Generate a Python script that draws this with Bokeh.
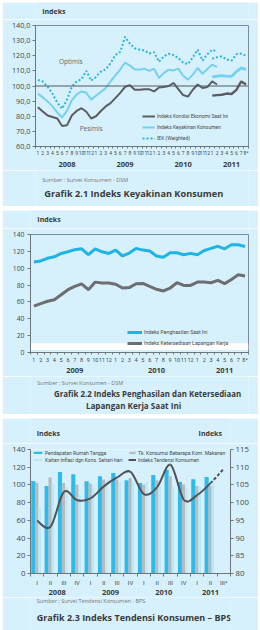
from bokeh.plotting import figure
from bokeh.models import (Range1d, LinearAxis, FixedTicker, Span, Label, Legend,
                          LegendItem, BoxAnnotation, ColumnDataSource)
from bokeh.layouts import column
from bokeh.transform import dodge
from bokeh.embed import file_html
from bokeh.resources import INLINE

BG = "#d6f1fb"
FRAME = "#7d8c92"
AXIS = "#6c777c"
TXT = "#474747"
HEAD = "#3a3a3a"
FONT = "Open Sans"
SMALL = "Roboto"
W = 256

# ---------------- Grafik 2.1 : monthly, Jan 2008 - Aug 2011 ----------------
months_1 = [str(m) for m in range(1, 13)] * 3 + ["1", "2", "3", "4", "5", "6", "7", "8*"]
years_1 = ["2008", "2009", "2010", "2011"]
months_in_year_1 = [12, 12, 12, 8]

# old index series (Jan 2008 - Feb 2011)
ike_old = [86, 83.2, 80.5, 79.5, 78.5, 73.5, 74, 80.5, 83.5, 85.3, 83, 78.5,
           80, 83.5, 86.5, 88.7, 92, 95.5, 99.5, 100.5, 97.5, 97.5, 97.8, 97.8,
           96.4, 99, 99.3, 100, 102, 98, 94, 93, 97.5, 101, 98.7, 99.3,
           103, 101]
ikk_old = [95, 92.5, 89.8, 86.5, 82.5, 79.2, 83.5, 90.5, 94.5, 96.4, 95.5, 91,
           93.5, 96, 98.5, 103, 107, 110.8, 115.5, 113.5, 111, 110.8, 111.5, 110,
           111.5, 105.3, 108.5, 110.8, 110.3, 111.5, 106.8, 104.2, 107.5, 111.9, 108.1, 111.3,
           114.1, 112.5]
iek_old = [104, 103, 99.5, 95, 89, 85, 91, 99.5, 103, 104.5, 110, 103.5,
           106, 109.5, 111, 115, 120.5, 122.5, 132.5, 128, 125, 124, 123.5, 121.5,
           122.3, 116, 119.5, 121.3, 120.5, 118.5, 115.5, 114.5, 119, 124, 116.8, 121,
           124, 122.8]
# new index series (Jan 2011 - Aug 2011)
ike_new = [93.6, 94, 94.2, 95, 94.7, 97.5, 103, 101]
ikk_new = [106, 106.5, 106.8, 106.5, 106.4, 109.5, 112, 110.8]
iek_new = [118, 119, 119.5, 117.5, 116.8, 121, 121.4, 120]
y_ticks_1 = [60, 70, 80, 90, 100, 110, 120, 130, 140]
y_labels_1 = ["60,0", "70,0", "80,0", "90,0", "100,0", "110,0", "120,0", "130,0", "140,0"]

# ---------------- Grafik 2.2 : monthly, Jan 2009 - Aug 2011 ----------------
months_2 = [str(m) for m in range(1, 13)] * 2 + ["1", "2", "3", "4", "5", "6", "7", "8*"]
years_2 = ["2009", "2010", "2011"]
months_in_year_2 = [12, 12, 8]
penghasilan = [107.3, 108.6, 111.8, 113.5, 117.5, 119.5, 122, 123, 116, 123, 119.5, 117.5,
               121.5, 114.5, 118, 123.5, 121.5, 120.5, 114.5, 113, 118.4, 118.4, 116, 117.6,
               116, 121, 123.5, 126, 123, 127.8, 127.8, 125.8]
lapangan_kerja = [55, 58, 60.8, 62.5, 68.5, 74.5, 78.5, 81.5, 74.5, 83.5, 82.5, 82.5,
                  81, 76.5, 77, 81.5, 82, 78.5, 75, 73, 76.5, 82.8, 79.6, 79.6,
                  83.6, 83.6, 82.8, 85.5, 81.7, 86.7, 92.3, 90.7]
y_ticks_2 = [0, 20, 40, 60, 80, 100, 120, 140]

# ---------------- Grafik 2.3 : quarterly, 2008 Q1 - 2011 Q3 ----------------
quarters_3 = ["I", "II", "III", "IV"] * 3 + ["I", "II", "III*"]
years_3 = ["2008", "2009", "2010", "2011"]
quarters_in_year_3 = [4, 4, 4, 3]
pendapatan = [104.5, 98.9, 114.7, 112, 104.2, 109.8, 113.5, 105.3, 102.3, 111.3, 117.2, 103.4, 106.4, 109]
konsumsi_makanan = [102.5, 108.3, 102.3, 100.4, 101.6, 106.1, 106, 107.9, 100.4, 105.3, 109.8, 100.4, 98.9, 98.9]
kaitan_inflasi = [73.5, 101, 98, 88.4, 99, 105.3, 103.4, 103.4, 103.4, 98.5, 98.5, 96.6, 97.7, 106]
itk = [94.9, 93.2, 103, 100.7, 101.2, 104.6, 107.1, 108.7, 102.4, 104.4, 110.7, 100.8, 102.1, 105.5]
itk_outlook = [109.6]   # expected value for 2011 Q3*
y_ticks_3 = [0, 20, 40, 60, 80, 100, 120, 140]
y_ticks_3r = [80, 85, 90, 95, 100, 105, 110, 115]


def make_fig(frame_h, n_x, y0, y1, bl, br, bt=6, bb=24, outline=True):
    p = figure(width=W, height=bt + frame_h + bb, x_range=Range1d(-0.5, n_x - 0.5),
               y_range=Range1d(y0, y1), output_backend="svg", toolbar_location=None,
               min_border_left=bl, min_border_right=br, min_border_top=bt,
               min_border_bottom=bb, background_fill_color=BG, border_fill_color=BG,
               outline_line_color=FRAME if outline else None)
    p.xgrid.visible = False
    p.ygrid.visible = False
    return p


def text_strip(height):
    # a plain canvas for headings and notes; its data units are pixels from the top-left
    s = figure(width=W, height=height, x_range=Range1d(0, W), y_range=Range1d(height, 0),
               output_backend="svg", toolbar_location=None, x_axis_type=None,
               y_axis_type=None, min_border=0, background_fill_color=BG,
               border_fill_color=BG, outline_line_color=None)
    return s


def note(s, x, y, text, size, bold=False, color=TXT, align="left"):
    s.add_layout(Label(x=x, y=y, text=text, text_font=FONT, text_font_size=size,
                       text_font_style="bold" if bold else "normal",
                       text_color=color, text_align=align, text_baseline="middle"))


def style_y(ax, ticks, labels, size, standoff=2):
    ax.ticker = FixedTicker(ticks=ticks)
    ax.major_label_overrides = dict(zip(ticks, labels))
    ax.major_tick_in = 0
    ax.major_tick_out = 3
    ax.minor_tick_line_color = None
    ax.axis_line_color = AXIS
    ax.major_tick_line_color = AXIS
    ax.major_label_text_font = FONT
    ax.major_label_text_font_size = size
    ax.major_label_text_color = TXT
    ax.major_label_standoff = standoff


def style_x(ax, labels, size, tick_out=2, standoff=1):
    ticks = list(range(len(labels)))
    ax.ticker = FixedTicker(ticks=ticks, minor_ticks=[t - 0.5 for t in range(len(labels) + 1)])
    ax.major_label_overrides = dict(zip(ticks, labels))
    ax.major_tick_line_color = None
    ax.major_tick_in = 0
    ax.major_tick_out = tick_out
    ax.minor_tick_in = 0
    ax.minor_tick_out = tick_out
    ax.minor_tick_line_color = AXIS
    ax.axis_line_color = AXIS
    ax.major_label_text_font = SMALL
    ax.major_label_text_font_size = size
    ax.major_label_text_color = TXT
    ax.major_label_standoff = standoff


def add_year_axis(p, names, counts, shift, standoff):
    centers, start = [], 0
    for c in counts:
        centers.append(start + (c - 1) / 2 + shift)
        start += c
    ax = LinearAxis(ticker=FixedTicker(ticks=centers),
                    major_label_overrides=dict(zip(centers, names)),
                    axis_line_color=None, major_tick_line_color=None,
                    minor_tick_line_color=None, major_tick_in=0, major_tick_out=0,
                    major_label_standoff=standoff, major_label_text_font=FONT,
                    major_label_text_font_style="bold", major_label_text_font_size="7.5px",
                    major_label_text_color=HEAD)
    p.add_layout(ax, "below")


def legend(items, loc, size, gw, gh, lh):
    return Legend(items=items, location=loc, orientation="vertical",
                  label_text_font=SMALL, label_text_font_size=size, label_text_color=TXT,
                  glyph_width=gw, glyph_height=gh, label_height=lh, label_standoff=2,
                  spacing=0, padding=0, margin=0, border_line_color=None,
                  background_fill_alpha=0)


# ============================ Grafik 2.1 ============================
h1 = text_strip(17)
note(h1, 8, 9, "Indeks", "7px", bold=True, color=HEAD)

p1 = make_fig(121, len(months_1), 60, 140, 33, 10)
style_y(p1.yaxis[0], y_ticks_1, y_labels_1, "7.3px")
style_x(p1.xaxis[0], months_1, "5px")
add_year_axis(p1, years_1, months_in_year_1, 0.5, 3)
p1.add_layout(Span(location=100, dimension="width", line_color="#55595c", line_width=1))

x_old = list(range(len(ike_old)))
x_new = list(range(len(months_1) - len(ike_new), len(months_1)))
C_IKE, C_IKK, C_IEK = "#5c5c62", "#74d1f0", "#2cb4e0"
r_ike = p1.line(x_old, ike_old, line_color=C_IKE, line_width=2)
p1.line(x_new, ike_new, line_color=C_IKE, line_width=2.4)
r_ikk = p1.line(x_old, ikk_old, line_color=C_IKK, line_width=2)
p1.line(x_new, ikk_new, line_color=C_IKK, line_width=2.8)
r_iek = p1.line(x_old, iek_old, line_color=C_IEK, line_width=2, line_dash="2 2")
p1.line(x_new, iek_new, line_color=C_IEK, line_width=2, line_dash="2 2")

p1.add_layout(Label(x=6.8, y=116, text="Optimis", text_font=FONT, text_font_size="6.5px",
                    text_color="#666666", text_align="center", text_baseline="middle"))
p1.add_layout(Label(x=11, y=71.7, text="Pesimis", text_font=FONT, text_font_size="6.5px",
                    text_color="#666666", text_align="center", text_baseline="middle"))
p1.add_layout(legend([LegendItem(label="Indeks Kondisi Ekonomi Saat Ini", renderers=[r_ike]),
                      LegendItem(label="Indeks Keyakinan Konsumen", renderers=[r_ikk]),
                      LegendItem(label="IEK (Weighted)", renderers=[r_iek])],
                     (107, 3), "5px", 13, 8, 11))

f1 = text_strip(36)
note(f1, 8, 9, "Sumber : Survei Konsumen - DSM", "5.5px", color="#777777")
note(f1, 10.5, 23, "Grafik 2.1 Indeks Keyakinan Konsumen", "9.2px", bold=True, color=HEAD)

# ============================ Grafik 2.2 ============================
h2 = text_strip(18)
note(h2, 8, 9, "Indeks", "7px", bold=True, color=HEAD)

p2 = make_fig(118, len(months_2), 0, 140, 28, 10)
style_y(p2.yaxis[0], y_ticks_2, [str(t) for t in y_ticks_2], "6.8px", standoff=3)
style_x(p2.xaxis[0], months_2, "5.5px", standoff=2)
add_year_axis(p2, years_2, months_in_year_2, 0.5, 2)
p2.add_layout(BoxAnnotation(bottom=3, top=11, fill_color="white", fill_alpha=1,
                            line_color=None, level="underlay"))
x2 = list(range(len(penghasilan)))
r_ph = p2.line(x2, penghasilan, line_color="#1fb3e6", line_width=3)
r_lk = p2.line(x2, lapangan_kerja, line_color="#6d6d73", line_width=3)
p2.add_layout(legend([LegendItem(label="Indeks Penghasilan Saat Ini", renderers=[r_ph]),
                      LegendItem(label="Indeks Ketersediaan Lapangan Kerja", renderers=[r_lk])],
                     (97, 4), "5.2px", 15, 8, 11))

f2 = text_strip(38)
note(f2, 8, 6, "Sumber : Survei Konsumen - DSM", "5.5px", color="#777777")
note(f2, 27.5, 17, "Grafik 2.2 Indeks Penghasilan dan Ketersediaan", "7.9px", bold=True, color=HEAD)
note(f2, 121, 29, "Lapangan Kerja Saat Ini", "8.1px", bold=True, color=HEAD, align="center")

# ============================ Grafik 2.3 ============================
h3 = text_strip(25)
note(h3, 8, 15, "Indeks", "7px", bold=True, color=HEAD)
note(h3, 245, 15, "Indeks", "7px", bold=True, color=HEAD, align="right")

p3 = make_fig(124, len(quarters_3), 0, 140, 28, 28, outline=False)
p3.extra_y_ranges = {"itk": Range1d(80, 115)}
style_y(p3.yaxis[0], y_ticks_3, [str(t) for t in y_ticks_3], "7.8px")
right_ax = LinearAxis(y_range_name="itk")
style_y(right_ax, y_ticks_3r, [str(t) for t in y_ticks_3r], "7.8px")
p3.add_layout(right_ax, "right")
style_x(p3.xaxis[0], quarters_3, "6px", tick_out=3, standoff=2)
add_year_axis(p3, years_3, quarters_in_year_3, 0, 1)

src3 = ColumnDataSource(dict(q=list(range(len(pendapatan))), pendapatan=pendapatan,
                             konsumsi=konsumsi_makanan, inflasi=kaitan_inflasi))
r_pd = p3.vbar(x=dodge("q", -0.29), top="pendapatan", width=0.31, source=src3,
               fill_color="#2dbbe9", line_color=None)
r_km = p3.vbar(x=dodge("q", -0.03), top="konsumsi", width=0.25, source=src3,
               fill_color="#b8bbbe", line_color=None)
r_ki = p3.vbar(x=dodge("q", 0.19), top="inflasi", width=0.2, source=src3,
               fill_color="#bfe8f7", line_color=None)


def smooth(xs, ys):
    # cubic Bezier pieces through consecutive points (Catmull-Rom tangents)
    n = len(xs)
    seg = {k: [] for k in ("x0", "y0", "x1", "y1", "cx0", "cy0", "cx1", "cy1")}
    for i in range(n - 1):
        ip, i2 = max(i - 1, 0), min(i + 2, n - 1)
        seg["x0"].append(xs[i]); seg["y0"].append(ys[i])
        seg["x1"].append(xs[i + 1]); seg["y1"].append(ys[i + 1])
        seg["cx0"].append(xs[i] + (xs[i + 1] - xs[ip]) / 6)
        seg["cy0"].append(ys[i] + (ys[i + 1] - ys[ip]) / 6)
        seg["cx1"].append(xs[i + 1] - (xs[i2] - xs[i]) / 6)
        seg["cy1"].append(ys[i + 1] - (ys[i2] - ys[i]) / 6)
    return seg


itk_all = itk + itk_outlook
segs = smooth(list(range(len(itk_all))), itk_all)
solid = {k: v[:len(itk) - 1] for k, v in segs.items()}
dashed = {k: v[len(itk) - 1:] for k, v in segs.items()}
bz = dict(x0="x0", y0="y0", x1="x1", y1="y1", cx0="cx0", cy0="cy0", cx1="cx1", cy1="cy1")
r_itk = p3.bezier(source=ColumnDataSource(solid), y_range_name="itk",
                  line_color="#515157", line_width=2, **bz)
p3.bezier(source=ColumnDataSource(dashed), y_range_name="itk",
          line_color="#515157", line_width=2, line_dash="3 2", **bz)

p3.add_layout(legend([LegendItem(label="Pendapatan Rumah Tangga", renderers=[r_pd]),
                      LegendItem(label="Kaitan Inflasi dgn Kons. Sehari-hari", renderers=[r_ki])],
                     (2, 110), "5px", 11, 3, 7))
p3.add_layout(legend([LegendItem(label="Tk. Konsumsi Beberapa Kom. Makanan", renderers=[r_km]),
                      LegendItem(label="Indeks Tendensi Konsumen", renderers=[r_itk])],
                     (98, 110), "5px", 8, 3, 7))

f3 = text_strip(33)
note(f3, 8, 3.8, "Sumber : Survei Tendensi Konsumen - BPS", "5.5px", color="#777777")
note(f3, 8, 20, "Grafik 2.3 Indeks Tendensi Konsumen \u2013 BPS", "9px", bold=True, color=HEAD)

page = column(column(h1, p1, f1), column(h2, p2, f2), column(h3, p3, f3),
              spacing=4, margin=(2, 2, 0, 2))
open("out.html", "w").write(file_html(page, INLINE))
